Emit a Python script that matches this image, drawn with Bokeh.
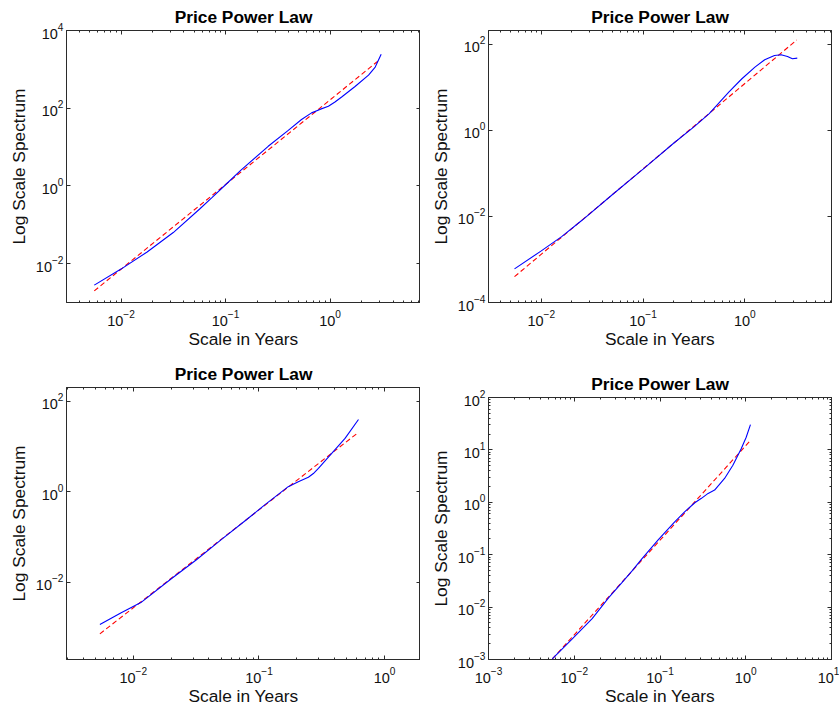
from bokeh.plotting import figure
from bokeh.models import FixedTicker, LogAxis, Range1d
from bokeh.layouts import row, column
from bokeh.embed import file_html
from bokeh.resources import INLINE

FONT = "Liberation Sans"
AX = "#2b2b2b"

title_text = "Price Power Law"
x_label = "Scale in Years"
y_label = "Log Scale Spectrum"

# ---- panel 1 (top left) ----
p1_scale = [0.00555, 0.01, 0.01778, 0.03162, 0.05623, 0.0741, 0.1, 0.1396, 0.2559,
            0.3981, 0.5333, 0.6653, 0.7998, 0.9638, 1.114, 1.291, 1.734, 2.333, 2.704, 3.083]
p1_spec = [0.0028, 0.00724, 0.01995, 0.0631, 0.2512, 0.5012, 1.072, 2.512, 10.47,
           26.9, 51.3, 75.9, 93.3, 112.2, 144.5, 195.0, 363.0, 708.0, 1148.0, 2455.0]
p1_fit_scale = [0.00555, 2.864]
p1_fit_spec = [0.001995, 1622.0]

# ---- panel 2 (top right) ----
p2_scale = [0.005458, 0.01, 0.01585, 0.02512, 0.05012, 0.1, 0.1995, 0.3162, 0.4467,
            0.695, 0.9354, 1.256, 1.567, 1.954, 2.270, 2.624, 2.931, 3.273]
p2_spec = [0.000603, 0.001585, 0.003388, 0.008128, 0.03236, 0.1259, 0.5012, 1.202, 2.455,
           7.745, 15.81, 29.44, 43.65, 54.95, 57.02, 52.12, 46.03, 47.64]
p2_fit_scale = [0.005458, 3.236]
p2_fit_spec = [0.000398, 125.9]

# ---- panel 3 (bottom left) ----
p3_scale = [0.00542, 0.007943, 0.01148, 0.01995, 0.03162, 0.05012, 0.07943, 0.1112,
            0.171, 0.2056, 0.2472, 0.2710, 0.2972, 0.3793, 0.4842, 0.6194]
p3_spec = [0.001159, 0.002089, 0.003548, 0.01175, 0.0309, 0.0871, 0.2399, 0.5093,
           1.288, 1.66, 2.075, 2.512, 3.273, 7.015, 15.0, 39.36]
p3_fit_scale = [0.00542, 0.618]
p3_fit_spec = [0.000724, 20.32]

# ---- panel 4 (bottom right) ----
p4_scale = [0.005546, 0.009484, 0.01618, 0.02523, 0.03597, 0.04699, 0.06138, 0.09572,
            0.1493, 0.195, 0.2547, 0.3041, 0.3639, 0.4335, 0.5662, 0.7079, 0.885, 1.012, 1.135]
p4_spec = [0.001023, 0.002466, 0.006026, 0.01521, 0.02924, 0.04853, 0.08318, 0.1932,
           0.4295, 0.6637, 0.9817, 1.191, 1.479, 1.710, 2.851, 5.082, 10.54, 17.46, 30.41]
p4_fit_scale = [0.005546, 1.135]
p4_fit_spec = [0.001023, 15.14]

# axis limits and ticks
p1_xlim, p1_ylim = (0.00301, 7.33), (1e-3, 1e4)
p2_xlim, p2_ylim = (0.00303, 7.1), (1e-4, 209.0)
p3_xlim, p3_ylim = (0.00294, 1.93), (1.96e-4, 200.0)
p4_xlim, p4_ylim = (1e-3, 10.0), (1e-3, 100.0)

p1_yticks = [1e-2, 1.0, 1e2, 1e4]
p2_yticks = [1e-4, 1e-2, 1.0, 1e2]
p3_yticks = [1e-2, 1.0, 1e2]
p4_yticks = [1e-3, 1e-2, 1e-1, 1.0, 1e1, 1e2]
xticks_a = [1e-2, 1e-1, 1.0]
xticks_b = [1e-3, 1e-2, 1e-1, 1.0, 1e1]


def minors(lo, hi):
    return [m * 10.0 ** e for e in range(lo, hi) for m in range(2, 10)]


def style_axis(ax, show_labels):
    ax.axis_line_color = AX
    ax.major_tick_line_color = AX
    ax.minor_tick_line_color = AX
    ax.major_tick_in = 4
    ax.major_tick_out = 0
    ax.minor_tick_in = 2
    ax.minor_tick_out = 0
    ax.major_label_text_font = FONT
    ax.major_label_text_color = "#111111"
    ax.axis_label_text_font = FONT
    ax.axis_label_text_font_style = "normal"
    ax.axis_label_text_color = "#111111"
    ax.axis_label_text_font_size = "13pt"
    if show_labels:
        ax.major_label_text_font_size = "14.5px"
        ax.major_label_standoff = 3
        ax.axis_label_standoff = 4
    else:
        ax.major_label_text_font_size = "1px"
        ax.major_label_text_alpha = 0
        ax.major_label_standoff = 0


def make(w, h, xlim, ylim, xt, xm, yt, ym, borders, sx, sy, fx, fy):
    p = figure(width=w, height=h, x_axis_type="log", y_axis_type="log",
               x_range=Range1d(*xlim), y_range=Range1d(*ylim),
               output_backend="svg", toolbar_location=None,
               min_border_left=borders[0], min_border_right=borders[1],
               min_border_top=borders[2], min_border_bottom=borders[3])
    p.title.text = title_text
    p.title.align = "center"
    p.title.text_font = FONT
    p.title.text_font_size = "13pt"
    p.title.text_font_style = "bold"
    p.title.text_color = "#000000"
    p.title.standoff = 7
    p.grid.visible = False
    p.outline_line_color = AX
    p.background_fill_color = "white"
    p.border_fill_color = "white"

    p.xaxis.ticker = FixedTicker(ticks=xt, minor_ticks=xm)
    p.yaxis.ticker = FixedTicker(ticks=yt, minor_ticks=ym)
    p.xaxis.axis_label = x_label
    p.yaxis.axis_label = y_label
    style_axis(p.xaxis[0], True)
    style_axis(p.yaxis[0], True)
    p.xaxis[0].major_label_standoff = 7
    p.xaxis[0].axis_label_standoff = 0

    top = LogAxis(ticker=FixedTicker(ticks=xt, minor_ticks=xm))
    right = LogAxis(ticker=FixedTicker(ticks=yt, minor_ticks=ym))
    style_axis(top, False)
    style_axis(right, False)
    p.add_layout(top, "above")
    p.add_layout(right, "right")

    p.line(fx, fy, line_color="#ff0000", line_width=1.1, line_dash="5 3")
    p.line(sx, sy, line_color="#0000ff", line_width=1.1)
    return p


xm_a = minors(-3, 1)
xm_b = minors(-3, 1)
p4_ym = minors(-3, 2)

p1 = make(420, 355, p1_xlim, p1_ylim, xticks_a, xm_a, p1_yticks, [], (66, 0, 30, 53),
          p1_scale, p1_spec, p1_fit_scale, p1_fit_spec)
p2 = make(419, 355, p2_xlim, p2_ylim, xticks_a, xm_a, p2_yticks, [], (68, 0, 30, 53),
          p2_scale, p2_spec, p2_fit_scale, p2_fit_spec)
p3 = make(420, 353, p3_xlim, p3_ylim, xticks_a, xm_a, p3_yticks, [], (66, 0, 32, 48),
          p3_scale, p3_spec, p3_fit_scale, p3_fit_spec)
p4 = make(419, 353, p4_xlim, p4_ylim, xticks_b, xm_b, p4_yticks, p4_ym, (66, 8, 42, 47),
          p4_scale, p4_spec, p4_fit_scale, p4_fit_spec)

layout = row(column(p1, p3), column(p2, p4))

open("out.html", "w").write(file_html(layout, INLINE))
